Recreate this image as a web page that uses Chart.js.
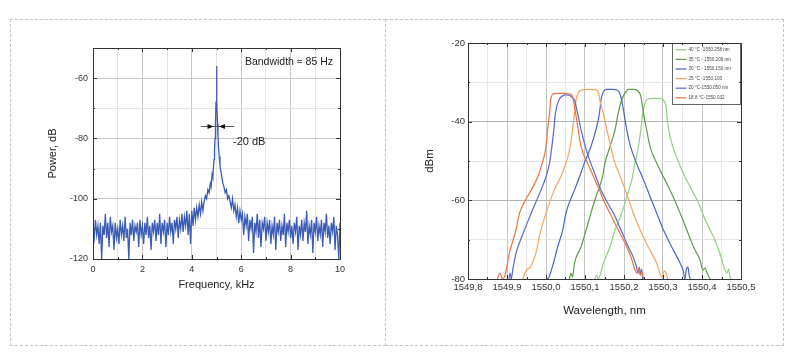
<!DOCTYPE html>
<html>
<head>
<meta charset="utf-8">
<script src="https://cdn.jsdelivr.net/npm/chart.js@4.4.1/dist/chart.umd.min.js"></script>
<style>
  body { margin: 0; background: #fff; width: 800px; height: 364px; position: relative; overflow: hidden; }
  .panel { position: absolute; border: 1px dashed #c4c4c4; box-sizing: border-box; }
  canvas { position: absolute; }
</style>
</head>
<body>
<div class="panel" style="left:10px;top:19px;width:376px;height:327px"></div>
<div class="panel" style="left:385px;top:19px;width:399px;height:327px"></div>
<canvas id="spectrum" width="372" height="324" style="left:11px;top:20px"></canvas>
<canvas id="filters" width="396" height="324" style="left:386px;top:20px"></canvas>
<script>
// ---------- left panel: beat spectrum ----------
// noise floor below the peak, 0 .. 4.45 kHz every 0.05 kHz
const noiseLowDb = [
  -110, -113, -107, -112, -109, -115, -108, -120, -109, -112,
  -105, -113, -108, -116, -106, -111, -109, -117, -108, -113,
  -110, -115, -107, -112, -109, -114, -106, -113, -110, -120,
  -108, -112, -107, -114, -109, -111, -108, -116, -107, -112,
  -109, -115, -108, -112, -106, -113, -109, -117, -108, -111,
  -107, -114, -108, -112, -105, -115, -108, -111, -107, -116,
  -108, -112, -106, -111, -108, -115, -107, -110, -106, -113,
  -107, -110, -105, -111, -106, -109, -104, -112, -105, -115,
  -104, -109, -103, -107, -103, -106, -102, -105, -101, -104
];
// around the peak
const peakKHz = [4.50, 4.55, 4.60, 4.65, 4.70, 4.75, 4.78, 4.82, 4.85, 4.88, 4.90, 4.92, 4.94, 4.96, 4.98,
  5.00, 5.02, 5.04, 5.06, 5.08, 5.11, 5.14, 5.18, 5.22, 5.26, 5.30, 5.35, 5.40, 5.45, 5.50];
const peakDb = [-101, -99, -100, -97, -98, -95, -96, -92, -93, -89, -87, -84, -80, -75, -68,
  -56, -68, -75, -79, -83, -86, -89, -91, -93, -95, -96, -98, -97, -100, -99];
// noise floor above the peak, 5.55 .. 10 kHz every 0.05 kHz
const noiseHighDb = [
  -101, -103, -100, -104, -102, -106, -103, -108, -104, -107,
  -105, -112, -106, -109, -105, -114, -107, -110, -106, -118,
  -108, -111, -105, -113, -107, -116, -108, -110, -106, -114,
  -108, -111, -107, -115, -109, -112, -106, -117, -108, -111,
  -107, -114, -109, -112, -105, -116, -108, -111, -107, -113,
  -109, -115, -108, -111, -106, -117, -109, -112, -107, -114,
  -108, -111, -104, -115, -109, -112, -107, -118, -108, -111,
  -106, -114, -109, -112, -107, -116, -108, -111, -105, -113,
  -109, -115, -108, -111, -106, -117, -109, -112, -120, -108
];
const bandwidthText = "Bandwidth \u2248 85 Hz";
const levelText = "-20 dB";

// ---------- right panel: filter transmission vs temperature ----------
const legendLabels = ["18.8 \u00b0C-1550.032", "20 \u00b0C-1550.050 nm", "25 \u00b0C -1550.103",
  "30 \u00b0C - 1550.150 nm", "35 \u00b0C - 1550.209 nm", "40 \u00b0C -1550.258 nm"];

const wl188 = [1549.875, 1549.882, 1549.889, 1549.895, 1549.906, 1549.923, 1549.932, 1549.947, 1549.962, 1549.979,
  1549.990, 1550.000, 1550.004, 1550.009, 1550.012, 1550.018, 1550.030, 1550.045, 1550.060, 1550.068, 1550.073,
  1550.080, 1550.090, 1550.107, 1550.122, 1550.137, 1550.150, 1550.164, 1550.185, 1550.207, 1550.220, 1550.228,
  1550.234, 1550.238, 1550.242, 1550.246, 1550.250];
const db188 = [-80, -78.5, -80, -79, -73.5, -67.5, -63.3, -60, -57.4, -54, -50.6, -46.4, -42.1, -37.9, -34.5, -33,
  -32.8, -32.8, -32.9, -33.5, -36.2, -40.4, -46.4, -50.6, -54, -57.4, -60.5, -63.3, -67.5, -71.8, -75, -77.7, -78.5,
  -77.2, -79, -78.2, -80];

const wl20 = [1549.905, 1549.908, 1549.911, 1549.915, 1549.923, 1549.945, 1549.962, 1549.987, 1550.000, 1550.009,
  1550.015, 1550.020, 1550.024, 1550.033, 1550.043, 1550.051, 1550.062, 1550.068, 1550.073, 1550.081, 1550.090,
  1550.101, 1550.115, 1550.128, 1550.141, 1550.157, 1550.173, 1550.192, 1550.211, 1550.224, 1550.232, 1550.236,
  1550.239, 1550.242, 1550.245, 1550.248];
const db20 = [-80, -78.5, -80, -77.5, -73.5, -67.5, -63.3, -57.4, -54, -50.6, -46.4, -42.1, -37.9, -34.5, -33.4,
  -33.2, -33.4, -34, -34.5, -37.9, -42.1, -46.4, -50.6, -54, -57.4, -60.5, -63.3, -67.5, -71.8, -74.5, -76.9, -78.5,
  -77, -79, -77.5, -80];

const wl25 = [1549.940, 1549.946, 1549.952, 1549.958, 1549.965, 1549.974, 1549.987, 1550.000, 1550.021, 1550.038,
  1550.051, 1550.062, 1550.068, 1550.073, 1550.077, 1550.084, 1550.092, 1550.110, 1550.128, 1550.135, 1550.138,
  1550.147, 1550.156, 1550.166, 1550.177, 1550.194, 1550.209, 1550.224, 1550.241, 1550.262, 1550.284, 1550.297,
  1550.303, 1550.308, 1550.312];
const db25 = [-80, -78.5, -77.5, -77.2, -76, -73.5, -67.5, -63.3, -57.4, -54, -50.6, -46.4, -42.1, -37.9, -34.5,
  -32.5, -31.9, -31.8, -31.9, -32.8, -34.5, -37.9, -42.1, -46.4, -50.6, -54.8, -59, -63.3, -67.5, -71.8, -76, -79.5,
  -78, -78.5, -80];

const wl30 = [1550.003, 1550.008, 1550.013, 1550.019, 1550.030, 1550.043, 1550.051, 1550.062, 1550.073, 1550.086,
  1550.098, 1550.115, 1550.128, 1550.137, 1550.141, 1550.147, 1550.155, 1550.170, 1550.183, 1550.189, 1550.194,
  1550.200, 1550.207, 1550.217, 1550.232, 1550.250, 1550.267, 1550.284, 1550.301, 1550.322, 1550.344, 1550.352,
  1550.356, 1550.360, 1550.364, 1550.367, 1550.370];
const db30 = [-80, -79.5, -78, -76, -71.8, -67.5, -63.3, -60, -57.4, -54, -50.6, -46.4, -42.1, -37.9, -34.5, -32.4,
  -31.8, -31.8, -32, -32.8, -34.5, -37.9, -42.1, -46.4, -50.6, -54.8, -59.1, -63.3, -67.5, -71.8, -76, -78, -80,
  -77.5, -77, -79, -80];

const wl35 = [1550.060, 1550.064, 1550.068, 1550.073, 1550.090, 1550.103, 1550.115, 1550.128, 1550.145, 1550.151,
  1550.164, 1550.177, 1550.185, 1550.194, 1550.203, 1550.212, 1550.225, 1550.236, 1550.242, 1550.245, 1550.250,
  1550.258, 1550.267, 1550.284, 1550.305, 1550.326, 1550.344, 1550.361, 1550.378, 1550.395, 1550.402, 1550.408,
  1550.413, 1550.418, 1550.421];
const db35 = [-80, -78.5, -79.5, -76, -71.8, -67.5, -63.3, -59.1, -54, -50.6, -46.4, -42.1, -37.9, -34.5, -32.6,
  -31.8, -31.8, -32.2, -33.2, -34.5, -37.9, -42.1, -46.4, -50.6, -54.8, -59.1, -63.3, -67.5, -71.8, -75.2, -77.7,
  -77.2, -78.5, -79.5, -80];

const wl40 = [1550.125, 1550.130, 1550.134, 1550.147, 1550.164, 1550.177, 1550.194, 1550.207, 1550.220, 1550.228,
  1550.237, 1550.243, 1550.248, 1550.254, 1550.262, 1550.280, 1550.297, 1550.303, 1550.308, 1550.311, 1550.318,
  1550.331, 1550.348, 1550.369, 1550.391, 1550.408, 1550.429, 1550.446, 1550.459, 1550.464, 1550.468, 1550.472,
  1550.475];
const db40 = [-80, -79, -80, -76, -71.8, -67.5, -63.3, -59.1, -54.8, -50.6, -46.4, -42.1, -37.9, -35.3, -34.2,
  -34.1, -34.2, -34.8, -36.2, -39.6, -43.8, -48, -52.2, -56.5, -60.7, -64.9, -69.2, -73.5, -77.7, -78.5, -77.5,
  -79.5, -80];

const FONT = '"Liberation Sans", Arial, sans-serif';
Chart.defaults.font.family = FONT;
Chart.defaults.color = "#333";

const pairs = (xs, ys) => xs.map((x, i) => ({ x: x, y: ys[i] }));

// spectrum points: sampling grid for the noise, explicit points round the peak
const spectrumPoints = [
  ...noiseLowDb.map((v, i) => ({ x: +(i * 0.05).toFixed(2), y: v })),
  ...pairs(peakKHz, peakDb),
  ...noiseHighDb.map((v, i) => ({ x: +(5.55 + i * 0.05).toFixed(2), y: v }))
];

// box round the plot and short inward ticks on all four sides
const frameTicks = {
  id: "frameTicks",
  afterDraw(chart) {
    const { ctx, chartArea: a, scales } = chart;
    ctx.save();
    ctx.strokeStyle = "#333";
    ctx.lineWidth = 1;
    ctx.beginPath();
    scales.x.ticks.forEach((t) => {
      const px = Math.round(scales.x.getPixelForValue(t.value)) + 0.5;
      const len = t.label !== "" ? 4 : 2;
      ctx.moveTo(px, a.bottom); ctx.lineTo(px, a.bottom - len);
      ctx.moveTo(px, a.top); ctx.lineTo(px, a.top + len);
    });
    scales.y.ticks.forEach((t) => {
      const py = Math.round(scales.y.getPixelForValue(t.value)) + 0.5;
      const len = t.label !== "" ? 4 : 2;
      ctx.moveTo(a.left, py); ctx.lineTo(a.left + len, py);
      ctx.moveTo(a.right, py); ctx.lineTo(a.right - len, py);
    });
    ctx.stroke();
    ctx.strokeRect(Math.round(a.left) + 0.5, Math.round(a.top) + 0.5,
      Math.round(a.right - a.left), Math.round(a.bottom - a.top));
    ctx.restore();
  }
};

// -20 dB marker and bandwidth note
const bandwidthNote = {
  id: "bandwidthNote",
  afterDatasetsDraw(chart) {
    const { ctx, scales: { x, y } } = chart;
    const py = Math.round(y.getPixelForValue(-76)) + 0.5;
    ctx.save();
    ctx.strokeStyle = "#555";
    ctx.lineWidth = 1;
    ctx.beginPath();
    ctx.moveTo(x.getPixelForValue(4.37), py);
    ctx.lineTo(x.getPixelForValue(5.71), py);
    ctx.stroke();
    ctx.fillStyle = "#111";
    const l = x.getPixelForValue(4.88), r = x.getPixelForValue(5.10);
    ctx.beginPath();
    ctx.moveTo(l, py); ctx.lineTo(l - 6, py - 2.5); ctx.lineTo(l - 6, py + 2.5); ctx.closePath();
    ctx.moveTo(r, py); ctx.lineTo(r + 6, py - 2.5); ctx.lineTo(r + 6, py + 2.5); ctx.closePath();
    ctx.fill();
    ctx.fillStyle = "#222";
    ctx.textBaseline = "middle";
    ctx.font = "10.5px " + FONT;
    ctx.fillText(bandwidthText, x.getPixelForValue(6.15), y.getPixelForValue(-54.7));
    ctx.font = "11px " + FONT;
    ctx.fillText(levelText, x.getPixelForValue(5.67), y.getPixelForValue(-81.3));
    ctx.restore();
  }
};

// small boxed legend in the top right corner
const boxLegend = {
  id: "boxLegend",
  afterDatasetsDraw(chart) {
    const { ctx, chartArea: a } = chart;
    const w = 68, h = 61;
    const left = Math.round(a.right) - w - 0.5, top = Math.round(a.top) + 0.5;
    ctx.save();
    ctx.fillStyle = "#fff";
    ctx.fillRect(left, top, w, h);
    ctx.strokeStyle = "#666";
    ctx.lineWidth = 1;
    ctx.strokeRect(left, top, w, h);
    ctx.font = "4.6px " + FONT;
    ctx.textBaseline = "middle";
    const sets = chart.data.datasets.slice().reverse();
    sets.forEach((ds, i) => {
      const yy = top + 6.3 + i * 9.6;
      ctx.strokeStyle = ds.borderColor;
      ctx.lineWidth = 1.2;
      ctx.beginPath();
      ctx.moveTo(left + 3, yy); ctx.lineTo(left + 14, yy);
      ctx.stroke();
      ctx.fillStyle = "#444";
      ctx.fillText(ds.label, left + 16, yy);
    });
    ctx.restore();
  }
};

const fitWidth = (w) => (scale) => { scale.width = w; };
const fitHeight = (h) => (scale) => { scale.height = h; };

new Chart(document.getElementById("spectrum"), {
  type: "line",
  data: {
    datasets: [{
      data: spectrumPoints,
      borderColor: "#3a5cb4",
      borderWidth: 1.3,
      pointRadius: 0,
      tension: 0,
      fill: false
    }]
  },
  options: {
    responsive: false,
    animation: false,
    devicePixelRatio: 1,
    layout: { padding: { left: 0, right: 43, top: 28, bottom: 0 } },
    plugins: { legend: { display: false }, tooltip: { enabled: false } },
    scales: {
      x: {
        type: "linear", min: 0, max: 10,
        afterFit: fitHeight(85),
        border: { display: false },
        grid: {
          drawTicks: false,
          color: (c) => (c.tick && c.tick.value % 2 === 0 ? "#c8c8c8" : "#e4e4e4")
        },
        ticks: {
          stepSize: 1, autoSkip: false, maxRotation: 0, minRotation: 0, padding: 5,
          font: { size: 9 }, color: "#333",
          callback: (v) => (v % 2 === 0 ? String(v) : "")
        },
        title: { display: true, text: "Frequency, kHz", font: { size: 11 }, color: "#222",
          padding: { top: 0, bottom: 52 } }
      },
      y: {
        type: "linear", min: -120, max: -50,
        afterFit: fitWidth(82),
        border: { display: false },
        grid: {
          drawTicks: false,
          color: (c) => (c.tick && c.tick.value % 20 === 0 ? "#c8c8c8" : "#e4e4e4")
        },
        ticks: {
          stepSize: 10, autoSkip: false, padding: 5,
          font: { size: 9 }, color: "#333",
          callback: (v) => (v !== -50 && v % 20 === 0 ? String(v) : "")
        },
        title: { display: true, text: "Power, dB", font: { size: 11 }, color: "#222",
          padding: { top: 35, bottom: 0 } }
      }
    }
  },
  plugins: [frameTicks, bandwidthNote]
});

const curve = (label, xs, ys, color) => ({
  label: label,
  data: pairs(xs, ys),
  borderColor: color,
  borderWidth: 1.2,
  pointRadius: 0,
  cubicInterpolationMode: "monotone",
  fill: false
});

const wlLabel = (v) => {
  const k = Math.round(v * 100);
  return k % 10 === 0 ? (k / 100).toFixed(1).replace(".", ",") : "";
};

new Chart(document.getElementById("filters"), {
  type: "line",
  data: {
    datasets: [
      curve(legendLabels[0], wl188, db188, "#ea7440"),
      curve(legendLabels[1], wl20, db20, "#5b68cf"),
      curve(legendLabels[2], wl25, db25, "#f5a45c"),
      curve(legendLabels[3], wl30, db30, "#4a63c6"),
      curve(legendLabels[4], wl35, db35, "#5d9a4c"),
      curve(legendLabels[5], wl40, db40, "#93d084")
    ]
  },
  options: {
    responsive: false,
    animation: false,
    devicePixelRatio: 1,
    layout: { padding: { left: 0, right: 41, top: 23, bottom: 0 } },
    plugins: { legend: { display: false }, tooltip: { enabled: false } },
    scales: {
      x: {
        type: "linear", min: 1549.8, max: 1550.5,
        afterFit: fitHeight(65),
        border: { display: false },
        grid: {
          drawTicks: false,
          color: (c) => (c.tick && wlLabel(c.tick.value) !== "" ? "#c4c4c4" : "#e6e6e6")
        },
        ticks: {
          stepSize: 0.05, autoSkip: false, maxRotation: 0, minRotation: 0, padding: 3,
          font: { size: 9.5 }, color: "#333",
          callback: (v) => wlLabel(v)
        },
        title: { display: true, text: "Wavelength, nm", font: { size: 11.5 }, color: "#222",
          padding: { top: 0, bottom: 26 } }
      },
      y: {
        type: "linear", min: -80, max: -20,
        afterFit: fitWidth(82),
        border: { display: false },
        grid: {
          drawTicks: false,
          color: (c) => (c.tick && c.tick.value % 20 === 0 ? "#b4b4b4" : "#e6e6e6")
        },
        ticks: {
          stepSize: 10, autoSkip: false, padding: 3,
          font: { size: 9.5 }, color: "#333",
          callback: (v) => (v % 20 === 0 ? String(v) : "")
        },
        title: { display: true, text: "dBm", font: { size: 11.5 }, color: "#222",
          padding: { top: 37, bottom: 0 } }
      }
    }
  },
  plugins: [frameTicks, boxLegend]
});
</script>
</body>
</html>
